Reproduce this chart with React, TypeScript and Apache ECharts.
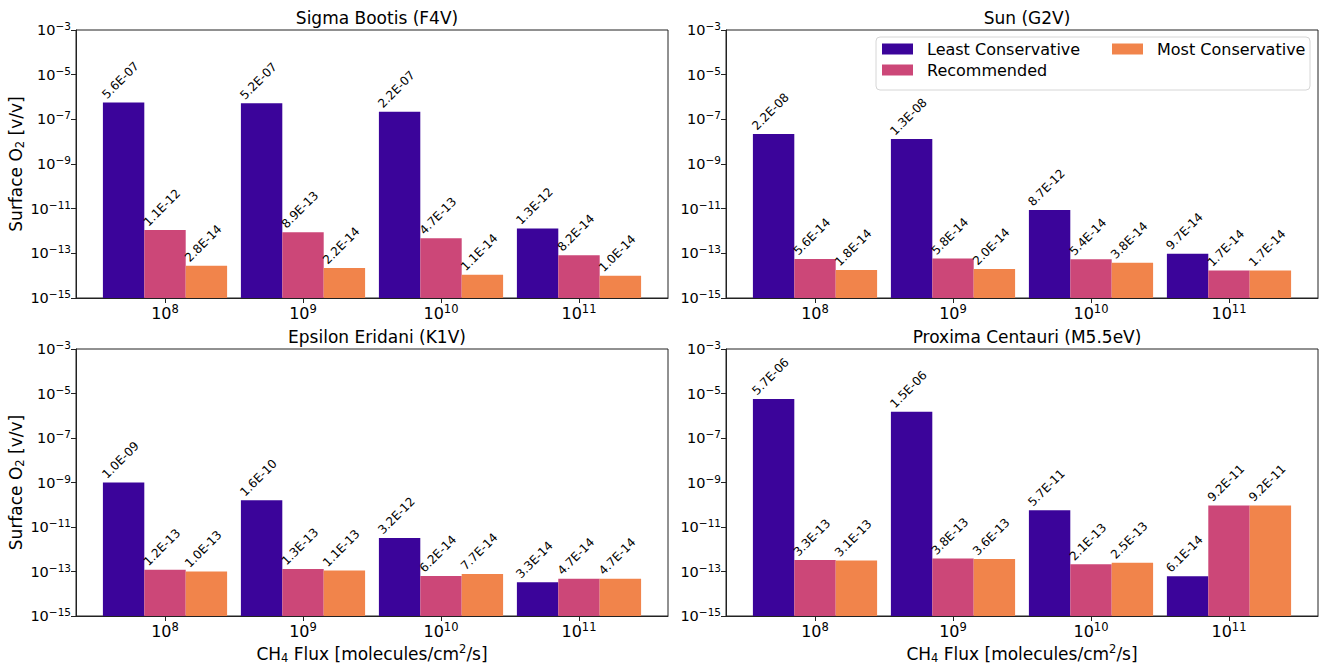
import React, { useEffect, useRef } from "react";
import * as echarts from "echarts";

// ---------- data ----------
const fluxExponents = [8, 9, 10, 11];
const fluxPositions = [0, 1, 2, 3];
const seriesNames = ["Least Conservative", "Recommended", "Most Conservative"];
const seriesColors = ["#3b049a", "#cc4778", "#f1844b"];
const panelTitles = [
  "Sigma Bootis (F4V)",
  "Sun (G2V)",
  "Epsilon Eridani (K1V)",
  "Proxima Centauri (M5.5eV)",
];
const yTickValues = [1e-15, 1e-13, 1e-11, 1e-9, 1e-7, 1e-5, 1e-3];

const sigmaLeast = [5.6e-7, 5.2e-7, 2.2e-7, 1.3e-12];
const sigmaRecommended = [1.1e-12, 8.9e-13, 4.7e-13, 8.2e-14];
const sigmaMost = [2.8e-14, 2.2e-14, 1.1e-14, 1.0e-14];

const sunLeast = [2.2e-8, 1.3e-8, 8.7e-12, 9.7e-14];
const sunRecommended = [5.6e-14, 5.8e-14, 5.4e-14, 1.7e-14];
const sunMost = [1.8e-14, 2.0e-14, 3.8e-14, 1.7e-14];

const epsLeast = [1.0e-9, 1.6e-10, 3.2e-12, 3.3e-14];
const epsRecommended = [1.2e-13, 1.3e-13, 6.2e-14, 4.7e-14];
const epsMost = [1.0e-13, 1.1e-13, 7.7e-14, 4.7e-14];

const proxLeast = [5.7e-6, 1.5e-6, 5.7e-11, 6.1e-14];
const proxRecommended = [3.3e-13, 3.8e-13, 2.1e-13, 9.2e-11];
const proxMost = [3.1e-13, 3.6e-13, 2.5e-13, 9.2e-11];

const panelData = [
  [sigmaLeast, sigmaRecommended, sigmaMost],
  [sunLeast, sunRecommended, sunMost],
  [epsLeast, epsRecommended, epsMost],
  [proxLeast, proxRecommended, proxMost],
];
const barOffsets = [-0.3, 0, 0.3];

// ---------- helpers ----------
const FONT = "DejaVu Sans";

function fmtSci(v: number): string {
  const [m, e] = v.toExponential(1).split("e");
  const ev = parseInt(e, 10);
  return `${m.toUpperCase()}E${ev < 0 ? "-" : "+"}${String(Math.abs(ev)).padStart(2, "0")}`;
}

export default function App() {
  const ref = useRef<HTMLDivElement>(null);

  useEffect(() => {
    if (!ref.current) return;
    const chart = echarts.init(ref.current, undefined, { renderer: "svg" });

    const grids = [
      { left: 76, top: 30, width: 592, height: 268 },
      { left: 726, top: 30, width: 592, height: 268 },
      { left: 76, top: 349, width: 592, height: 267 },
      { left: 726, top: 349, width: 592, height: 267 },
    ];

    const xTickRich = {
      base: { fontSize: 16, fontFamily: FONT, color: "#000" },
      sup: { fontSize: 11.5, fontFamily: FONT, color: "#000", padding: [0, 0, 8, 0] },
    };
    const yTickRich = {
      base: { fontSize: 14.5, fontFamily: FONT, color: "#000" },
      sup: { fontSize: 10.5, fontFamily: FONT, color: "#000", padding: [0, 0, 8, 0] },
    };

    const xAxes = grids.map((_, i) => ({
      type: "value",
      gridIndex: i,
      min: -0.645,
      max: 3.645,
      splitLine: { show: false },
      axisLine: { show: true, onZero: false, lineStyle: { color: "#222", width: 1 } },
      axisTick: { show: true, customValues: fluxPositions, length: 5, lineStyle: { color: "#222" } },
      axisLabel: {
        customValues: fluxPositions,
        margin: 5,
        formatter: (v: number) => `{base|10}{sup|${fluxExponents[Math.round(v)]}}`,
        rich: xTickRich,
      },
      name: i >= 2 ? "CH{sub|4} Flux [molecules/cm{sup|2}/s]" : "",
      nameLocation: "middle",
      nameGap: 27,
      nameTextStyle: {
        fontSize: 17,
        fontFamily: FONT,
        color: "#000",
        rich: {
          sub: { fontSize: 11.5, fontFamily: FONT, color: "#000", padding: [9, 0, 0, 0] },
          sup: { fontSize: 11.5, fontFamily: FONT, color: "#000", padding: [0, 0, 9, 0] },
        },
      },
    }));

    const yAxes = grids.map((_, i) => ({
      type: "log",
      logBase: 10,
      gridIndex: i,
      min: 1e-15,
      max: 1e-3,
      startValue: 1e-15,
      splitLine: { show: false },
      minorTick: { show: false },
      axisLine: { show: true, onZero: false, lineStyle: { color: "#222", width: 1 } },
      axisTick: { show: true, customValues: yTickValues, length: 5, lineStyle: { color: "#222" } },
      axisLabel: {
        customValues: yTickValues,
        margin: 5,
        formatter: (v: number) => {
          const e = Math.round(Math.log10(v));
          return `{base|10}{sup|\u2212${Math.abs(e)}}`;
        },
        rich: yTickRich,
      },
      name: i % 2 === 0 ? "Surface O{sub|2} [v/v]" : "",
      nameLocation: "middle",
      nameRotate: 90,
      nameGap: 41,
      nameTextStyle: {
        fontSize: 17,
        fontFamily: FONT,
        color: "#000",
        rich: {
          sub: { fontSize: 11.5, fontFamily: FONT, color: "#000", padding: [9, 0, 0, 0] },
        },
      },
    }));

    const series: any[] = [];
    panelData.forEach((panel, gi) => {
      panel.forEach((vals, si) => {
        series.push({
          type: "bar",
          name: seriesNames[si],
          xAxisIndex: gi,
          yAxisIndex: gi,
          barWidth: "100%",
          barGap: "-100%",
          itemStyle: { color: seriesColors[si] },
          data: vals.map((v, k) => [fluxPositions[k] + barOffsets[si], v]),
          label: {
            show: true,
            position: "top",
            rotate: 45,
            align: "left",
            verticalAlign: "middle",
            distance: 0,
            offset: [-9.5, -18],
            fontSize: 12,
            fontFamily: FONT,
            color: "#000",
            formatter: (p: any) => fmtSci(p.value[1]),
          },
        });
      });
    });

    const titles = grids.map((g, i) => ({
      text: panelTitles[i],
      left: g.left + g.width / 2,
      top: g.top - 26,
      textAlign: "center",
      textStyle: { fontSize: 17, fontWeight: "normal", fontFamily: FONT, color: "#000" },
    }));

    const legendCommon = {
      orient: "vertical",
      padding: 0,
      itemWidth: 31,
      itemHeight: 11,
      itemGap: 5,
      icon: "rect",
      z: 10,
      textStyle: { fontSize: 16, fontFamily: FONT, color: "#000", padding: [0, 0, 0, 9] },
    };

    chart.setOption({
      animation: false,
      backgroundColor: "#fff",
      title: titles,
      grid: grids.map((g) => ({ ...g, show: true, borderColor: "#222", borderWidth: 1, backgroundColor: "transparent" })),
      xAxis: xAxes,
      yAxis: yAxes,
      legend: [
        { ...legendCommon, left: 882, top: 41, data: [seriesNames[0], seriesNames[1]] },
        { ...legendCommon, left: 1112, top: 41, data: [seriesNames[2]] },
      ],
      graphic: [
        {
          type: "rect",
          z: 5,
          shape: { x: 876, y: 37, width: 434, height: 53, r: 4 },
          style: { fill: "rgba(255,255,255,0.85)", stroke: "#d6d6d6", lineWidth: 1 },
        },
      ],
      series,
    });

    return () => chart.dispose();
  }, []);

  return (
    <div
      ref={ref}
      style={{ position: "fixed", left: 0, top: 0, width: 1321, height: 668, background: "#fff" }}
    />
  );
}
